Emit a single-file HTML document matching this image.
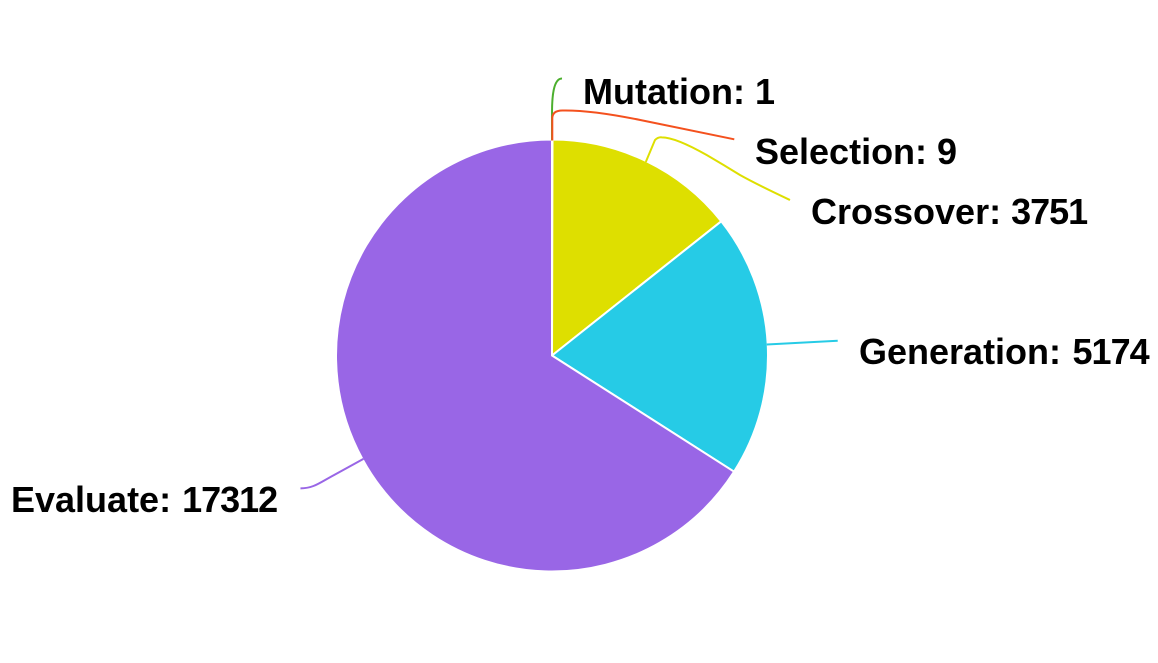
<!DOCTYPE html>
<html lang="en">
<head>
<meta charset="utf-8">
<title>Pie chart</title>
<style>
html,body{margin:0;padding:0;background:#fff;width:1158px;height:663px;overflow:hidden}
svg{display:block}
text{font-family:"Liberation Sans",Arial,sans-serif;font-weight:700;font-size:36px;fill:#000}
</style>
</head>
<body>
<svg id="chart" width="1158" height="663" viewBox="0 0 1158 663" xmlns="http://www.w3.org/2000/svg"></svg>
<script>
const categories = ['Mutation', 'Selection', 'Crossover', 'Generation', 'Evaluate'];
const values = [1, 9, 3751, 5174, 17312];
const colors = ['#4caf2e', '#f4511e', '#dedf00', '#26cbe6', '#9966e6'];

const NS = 'http://www.w3.org/2000/svg';
const svg = document.getElementById('chart');
const cx = 552, cy = 355.5, r = 216, anchorR = 215;
const total = values.reduce((a, b) => a + b, 0);
const angleOf = v => v / total * 2 * Math.PI;
const px = (a, rad) => cx + rad * Math.sin(a);
const py = (a, rad) => cy - rad * Math.cos(a);

// label placement: x, baseline y, gap before the number, digit tracking
const labelPlacement = {
  Mutation: [583, 104, 0, 0],
  Selection: [755, 164, 0, 0],
  Crossover: [811, 224, 0, -1],
  Generation: [859, 364, 1.5, -1],
  Evaluate: [11, 512, 1, -1]
};
// leader shapes, as offsets from each slice's anchor point
const leaderShape = {
  Mutation: 'l 0 -28 c 0 -14 1 -34 10 -34',
  Selection: 'l 0 -22 q 0 -8 10 -8 c 25 -0.5 55 4.8 78 9.5 l 94 19.3',
  Crossover: 'l 9.2 -22 q 3 -3 6.7 -2.7 c 11 0 28 8 45 17.7 c 12 7 22 13 33.3 20 c 17 9.5 33 17 50 25',
  Generation: 'l 71 -3.8',
  Evaluate: 'l -30 16.5 c -14 7.5 -20 13 -33 13'
};

const sliceGroup = document.createElementNS(NS, 'g');


const leaderGroup = document.createElementNS(NS, 'g');


const labelGroup = document.createElementNS(NS, 'g');



let running = 0;
categories.forEach((cat, i) => {
  const start = angleOf(running);
  running += values[i];
  const end = angleOf(running);
  const mid = (start + end) / 2;
  const large = end - start > Math.PI ? 1 : 0;
  const key = cat.toLowerCase();

  const slice = document.createElementNS(NS, 'path');
  slice.setAttribute('d', `M ${cx} ${cy} L ${px(start, r)} ${py(start, r)} A ${r} ${r} 0 ${large} 1 ${px(end, r)} ${py(end, r)} Z`);
  slice.setAttribute('fill', colors[i]);
  slice.setAttribute('stroke', '#fff');
  slice.setAttribute('stroke-width', '2');
  slice.setAttribute('stroke-linejoin', 'round');
  
  
  sliceGroup.appendChild(slice);

  const leader = document.createElementNS(NS, 'path');
  leader.setAttribute('d', `M ${px(mid, anchorR)} ${py(mid, anchorR)} ${leaderShape[cat]}`);
  leader.setAttribute('fill', 'none');
  leader.setAttribute('stroke', colors[i]);
  leader.setAttribute('stroke-width', '2');
  
  
  leaderGroup.appendChild(leader);

  const place = labelPlacement[cat];
  const label = document.createElementNS(NS, 'text');
  label.setAttribute('x', place[0]);
  label.setAttribute('y', place[1]);
  
  
  const nameSpan = document.createElementNS(NS, 'tspan');
  nameSpan.textContent = cat + ': ';
  
  
  const valueSpan = document.createElementNS(NS, 'tspan');
  valueSpan.textContent = values[i];
  valueSpan.setAttribute('dx', place[2]);
  valueSpan.setAttribute('letter-spacing', place[3]);
  
  
  label.appendChild(nameSpan);
  label.appendChild(valueSpan);
  labelGroup.appendChild(label);
});
svg.appendChild(sliceGroup);
svg.appendChild(leaderGroup);
svg.appendChild(labelGroup);
</script>
</body>
</html>
